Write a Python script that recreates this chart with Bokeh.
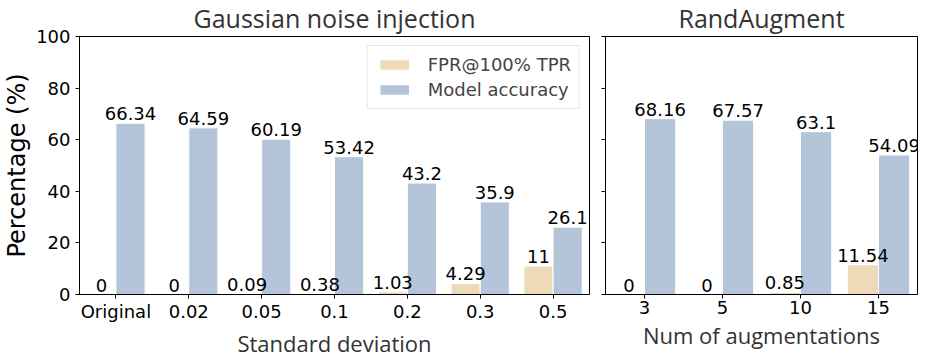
from bokeh.plotting import figure
from bokeh.layouts import row
from bokeh.models import Range1d, FixedTicker, ColumnDataSource, LabelSet, Legend, LegendItem
from bokeh.core.properties import value
from bokeh.embed import file_html
from bokeh.resources import INLINE

# ---- data ----
gauss_cats = ["Original", "0.02", "0.05", "0.1", "0.2", "0.3", "0.5"]
gauss_fpr = [0, 0, 0.09, 0.38, 1.03, 4.29, 11]
gauss_acc = [66.34, 64.59, 60.19, 53.42, 43.2, 35.9, 26.1]

ra_cats = ["3", "5", "10", "15"]
ra_fpr = [0, 0, 0.85, 11.54]
ra_acc = [68.16, 67.57, 63.1, 54.09]

y_ticks = [0, 20, 40, 60, 80, 100]

FPR_COLOR = "#EEDAB8"
ACC_COLOR = "#B5C5D9"
TICK_FONT = "DejaVu Sans"
TITLE_FONT = "Open Sans"
H = 360


def fmt(v):
    return f"{v:g}"


def make_panel(cats, fpr, acc, title, xlabel, width, left, right, show_ylabels):
    n = len(cats)
    p = figure(width=width, height=H, output_backend="svg", toolbar_location=None,
               x_range=Range1d(-0.5, n - 0.5), y_range=Range1d(0, 100),
               min_border_left=left, min_border_right=right,
               min_border_top=36, min_border_bottom=64)
    p.title.text = title
    p.title.align = "center"
    p.title.vertical_align = "top"
    p.title.text_font = TITLE_FONT
    p.title.text_font_size = "25px"
    p.title.text_font_style = "normal"
    p.title.text_color = "#333333"
    p.title.text_line_height = 1.0
    p.title.standoff = 0
    p.title.offset = 0

    idx = list(range(n))
    src = ColumnDataSource(dict(
        xf=[i - 0.2 for i in idx], xa=[i + 0.2 for i in idx],
        fpr=fpr, acc=acc,
        fl=[fmt(v) for v in fpr], al=[fmt(v) for v in acc]))

    r1 = p.vbar(x="xf", top="fpr", width=0.4, source=src, fill_color=FPR_COLOR,
                line_color="white", line_width=1)
    r2 = p.vbar(x="xa", top="acc", width=0.4, source=src, fill_color=ACC_COLOR,
                line_color="white", line_width=1)

    for xcol, ycol, tcol in (("xf", "fpr", "fl"), ("xa", "acc", "al")):
        ls = LabelSet(x=xcol, y=ycol, text=tcol, source=src, text_align="center",
                      text_baseline="alphabetic", y_offset=3,
                      text_font=value(TICK_FONT), text_font_size=value("18px"),
                      text_color="black")
        p.add_layout(ls)

    p.xgrid.visible = False
    p.ygrid.visible = False
    p.outline_line_color = "black"
    p.outline_line_width = 1

    xa = p.xaxis[0]
    xa.ticker = FixedTicker(ticks=idx)
    xa.major_label_overrides = {i: c for i, c in enumerate(cats)}
    xa.minor_tick_line_color = None
    xa.major_tick_in = 0
    xa.major_tick_out = 4
    xa.major_label_standoff = 2
    xa.major_label_text_font = TICK_FONT
    xa.major_label_text_font_size = "18px"
    xa.major_label_text_color = "black"
    xa.major_label_text_line_height = 1.0
    xa.axis_label = xlabel
    xa.axis_label_text_font = TITLE_FONT
    xa.axis_label_text_font_size = "22px"
    xa.axis_label_text_font_style = "normal"
    xa.axis_label_text_color = "#333333"
    xa.axis_label_text_line_height = 1.0
    xa.axis_label_standoff = 3
    xa.axis_line_color = "black"

    ya = p.yaxis[0]
    ya.ticker = FixedTicker(ticks=y_ticks)
    ya.minor_tick_line_color = None
    ya.major_tick_in = 0
    ya.major_tick_out = 4
    ya.axis_line_color = "black"
    if show_ylabels:
        ya.major_label_standoff = 5
        ya.major_label_text_font = TICK_FONT
        ya.major_label_text_font_size = "18px"
        ya.major_label_text_color = "black"
        ya.axis_label = "Percentage (%)"
        ya.axis_label_text_font = TICK_FONT
        ya.axis_label_text_font_size = "24px"
        ya.axis_label_text_font_style = "normal"
        ya.axis_label_text_color = "black"
        ya.axis_label_text_line_height = 1.0
        ya.axis_label_standoff = 2
    else:
        ya.major_label_standoff = 0
        ya.major_label_text_font_size = "0px"
        ya.major_label_overrides = {t: "" for t in y_ticks}
    return p, r1, r2


p1, r1, r2 = make_panel(gauss_cats, gauss_fpr, gauss_acc, "Gaussian noise injection",
                        "Standard deviation", 597, 78, 8, True)
p2, _, _ = make_panel(ra_cats, ra_fpr, ra_acc, "RandAugment",
                      "Num of augmentations", 330, 8, 10, False)

legend = Legend(items=[LegendItem(label="FPR@100% TPR", renderers=[r1]),
                       LegendItem(label="Model accuracy", renderers=[r2])],
                location="top_right", margin=9, padding=8, spacing=4,
                glyph_width=37, glyph_height=13, label_standoff=15,
                label_text_font=TICK_FONT, label_text_font_size="18px",
                label_height=21,
                border_line_color="#cccccc", border_line_width=1,
                background_fill_color="white", background_fill_alpha=0.8)
p1.add_layout(legend)

layout = row(p1, p2)
open("out.html", "w").write(file_html(layout, INLINE))
